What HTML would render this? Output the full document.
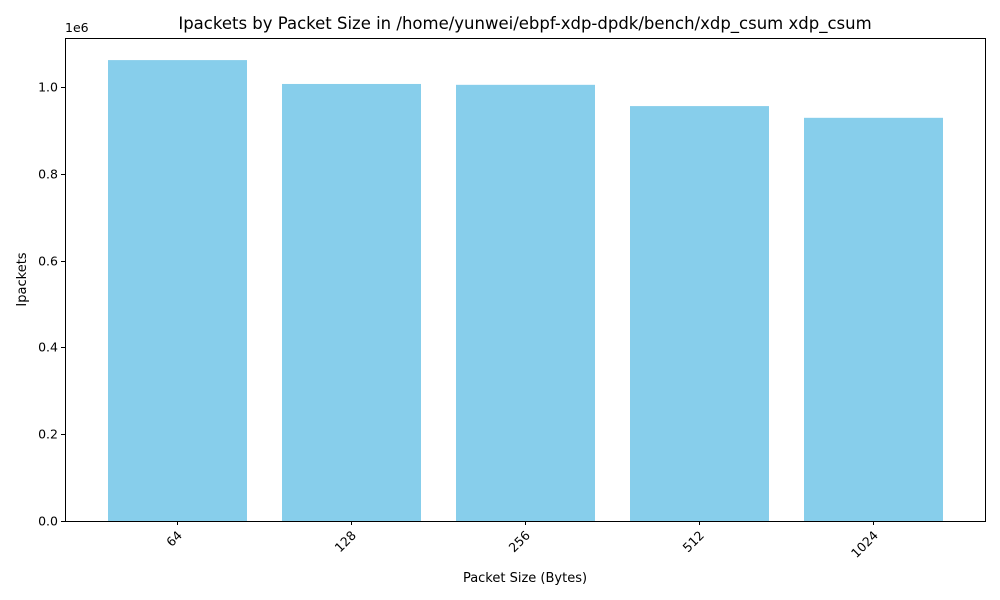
<!DOCTYPE html>
<html><head><meta charset="utf-8"><style>
html,body{margin:0;padding:0;background:#fff;}
svg{display:block;font-family:"DejaVu Sans","Liberation Sans",sans-serif;}
</style></head><body>
<svg id="chart" width="1000" height="600" viewBox="0 0 1000 600"></svg>
<script>
const categories = ["64","128","256","512","1024"];
const values = [1062000, 1007000, 1005000, 956000, 929000];
const yTicks = [0, 0.2, 0.4, 0.6, 0.8, 1.0];
const yTickLabels = ["0.0","0.2","0.4","0.6","0.8","1.0"];

const svg = document.getElementById('chart');
const NS = 'http://www.w3.org/2000/svg';
const L = 65, R = 985, T = 38, B = 521;
const yScale = v => B - v / 1e6 * 434;
const xCenter = i => 177.5 + i * 174;
const bw = 139;

function mk(tag, attrs, parent){
  const e = document.createElementNS(NS, tag);
  for (const k in attrs) e.setAttribute(k, attrs[k]);
  (parent || svg).appendChild(e);
  return e;
}

categories.forEach((c, i) => {
  const y = yScale(values[i]);
  const r = mk('rect', {x: xCenter(i) - bw/2, y: y, width: bw, height: B - y, fill: '#87ceeb'});
  
  
  mk('line', {x1: xCenter(i), x2: xCenter(i), y1: B, y2: B + 4, stroke: '#000', 'stroke-width': 1});
  const cx = xCenter(i), cy = B + 14;
  const t = mk('text', {x: cx, y: cy, 'font-size': 12.5, 'text-anchor': 'end', transform: `rotate(-45 ${cx+4} ${cy-6})`, fill: '#000'});
  t.textContent = c;
  
  
});

yTicks.forEach((v, i) => {
  const y = Math.round(yScale(v * 1e6)) + 0.5;
  mk('line', {x1: L - 4, x2: L, y1: y, y2: y, stroke: '#000', 'stroke-width': 1});
  const t = mk('text', {x: L - 7, y: y + 4, 'font-size': 12.5, 'text-anchor': 'end', fill: '#000'});
  t.textContent = yTickLabels[i];
  
  
});

const frame = mk('rect', {x: L + 0.5, y: T + 0.5, width: R - L, height: B - T, fill: 'none', stroke: '#000', 'stroke-width': 1});



const off = mk('text', {x: L, y: 32, 'font-size': 12.5, fill: '#000'});
off.textContent = '1e6';



const title = mk('text', {x: (L + R) / 2, y: 29, 'font-size': 16.5, 'text-anchor': 'middle', fill: '#000'});
title.textContent = 'Ipackets by Packet Size in /home/yunwei/ebpf-xdp-dpdk/bench/xdp_csum xdp_csum';



const xt = mk('text', {x: (L + R) / 2, y: 582, 'font-size': 13, 'text-anchor': 'middle', fill: '#000'});
xt.textContent = 'Packet Size (Bytes)';



const yt = mk('text', {x: 26, y: (T + B) / 2, 'font-size': 13, 'text-anchor': 'middle', fill: '#000', transform: `rotate(-90 26 ${(T + B) / 2})`});
yt.textContent = 'Ipackets';


</script>
</body></html>
